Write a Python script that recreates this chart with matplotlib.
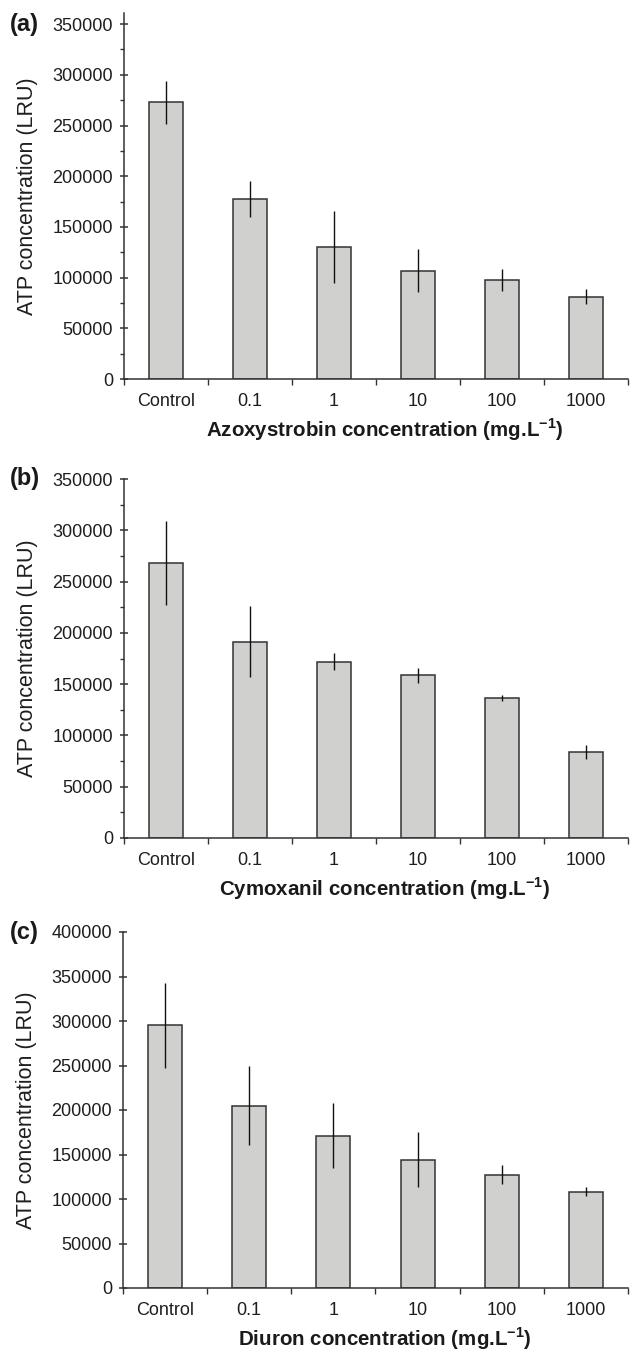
import matplotlib

matplotlib.use("Agg")
import matplotlib.pyplot as plt
import matplotlib.transforms as mtransforms
from matplotlib.ticker import FixedLocator, MultipleLocator, NullLocator, FormatStrFormatter

plt.rcParams["font.family"] = ["Liberation Sans", "DejaVu Sans"]
plt.rcParams["mathtext.fontset"] = "custom"
plt.rcParams["mathtext.rm"] = "Liberation Sans:bold"
plt.rcParams["mathtext.bf"] = "Liberation Sans:bold"

# --- data ---
concentrations = ["Control", "0.1", "1", "10", "100", "1000"]

azoxystrobin_mean = [273000, 177500, 130500, 107000, 97500, 81000]
azoxystrobin_err = [21000, 17500, 35500, 21000, 11000, 7500]

cymoxanil_mean = [268500, 191500, 172000, 158500, 136500, 84000]
cymoxanil_err = [41000, 35000, 8500, 7000, 3000, 7000]

diuron_mean = [295000, 205000, 171000, 144000, 127500, 108000]
diuron_err = [47500, 44000, 36500, 31000, 11000, 5000]

panels = [
    ("(a)", "Azoxystrobin", azoxystrobin_mean, azoxystrobin_err, 350000, 361000, True),
    ("(b)", "Cymoxanil", cymoxanil_mean, cymoxanil_err, 350000, 350000, True),
    ("(c)", "Diuron", diuron_mean, diuron_err, 400000, 400000, False),
]

W, H = 635, 1349
# axes boxes in pixels: left, right, top, bottom
boxes = [(124, 628, 13, 379), (124, 628, 479, 838), (123, 628, 932, 1288)]

BAR_COLOR = "#d0d1cf"
EDGE = "#333333"

fig = plt.figure(figsize=(W / 100, H / 100), dpi=100)

for (tag, name, mean, err, ytop, ylim_top, minor), (l, r, t, b) in zip(panels, boxes):
    ax = fig.add_axes([l / W, 1 - b / H, (r - l) / W, (b - t) / H])
    x = range(len(concentrations))
    ax.bar(x, mean, width=0.405, color=BAR_COLOR, edgecolor=EDGE, linewidth=1.1, zorder=2)
    ax.errorbar(x, mean, yerr=err, fmt="none", ecolor="#111111", elinewidth=1.0, capsize=0, zorder=3)

    ax.set_xlim(-0.5, len(concentrations) - 0.5)
    ax.set_ylim(0, ylim_top)

    ax.spines["top"].set_visible(False)
    ax.spines["right"].set_visible(False)
    for s in ("left", "bottom"):
        ax.spines[s].set_color(EDGE)
        ax.spines[s].set_linewidth(1.1)

    ax.yaxis.set_major_locator(FixedLocator(list(range(0, ytop + 1, 50000))))
    ax.yaxis.set_major_formatter(FormatStrFormatter("%d"))
    if minor:
        ax.yaxis.set_minor_locator(MultipleLocator(25000))
    else:
        ax.yaxis.set_minor_locator(NullLocator())
    ax.tick_params(axis="y", which="major", direction="inout", length=6, width=1.1,
                   color=EDGE, labelsize=13, labelcolor="#1e1e1e", pad=5)
    ax.tick_params(axis="y", which="minor", direction="out", length=3, width=1.0, color=EDGE)

    ax.set_xticks(list(x))
    ax.set_xticklabels(concentrations)
    ax.xaxis.set_minor_locator(FixedLocator([i - 0.5 for i in range(len(concentrations) + 1)]))
    ax.tick_params(axis="x", which="major", length=0, labelsize=13, labelcolor="#1e1e1e", pad=10)
    ax.tick_params(axis="x", which="minor", direction="out", length=4, width=1.0, color=EDGE)

    ax.set_xlabel(name + r" concentration (mg.L$^{\mathbf{-1}}$)", fontsize=14.8,
                  fontweight="bold", color="#1a1a1a")
    ax.xaxis.set_label_coords(0.518, -37.0 / (b - t))
    ax.set_ylabel("ATP concentration (LRU)", fontsize=15.5, color="#1e1e1e")
    ax.yaxis.set_label_coords(-0.171, 0.5)

    trans = mtransforms.blended_transform_factory(fig.transFigure, ax.transData)
    ax.text(10 / W, ytop, tag, transform=trans, fontsize=17, fontweight="bold",
            ha="left", va="center", color="#1a1a1a")

fig.savefig("out.png", dpi=100)
